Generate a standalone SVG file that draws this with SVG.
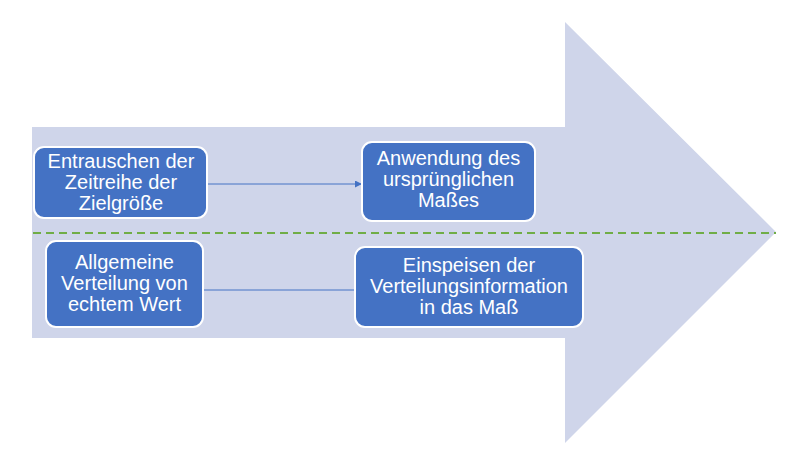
<svg xmlns="http://www.w3.org/2000/svg" width="786" height="461" viewBox="0 0 786 461">
<style>
.bg{fill:#cfd5ea}
.box{fill:#4472c4;stroke:#ffffff;stroke-width:2}
.lbl{font-family:"Liberation Sans",Arial,sans-serif;font-size:20px;fill:#ffffff;text-anchor:middle}
.conn{stroke:#4472c4;stroke-width:1;fill:none}
.sep{stroke:#70ad47;stroke-width:2;stroke-dasharray:8 5;fill:none}
</style>
<defs>
<marker id="ah" viewBox="0 0 10 10" refX="10" refY="5" markerWidth="7" markerHeight="7" markerUnits="userSpaceOnUse" orient="auto">
<path d="M0,0 L10,5 L0,10 z" fill="#4472c4"/>
</marker>
</defs>
<polygon class="bg" points="32,127 565,127 565,22 776,232 565,443 565,338 32,338"/>
<line class="sep" x1="33" y1="233" x2="776" y2="233"/>
<g id="connectors">
<line class="conn" x1="207" y1="184" x2="362" y2="184" marker-end="url(#ah)"/>
<line class="conn" x1="203" y1="290" x2="355" y2="290"/>
</g>
<g id="n1">
<rect class="box" x="34" y="147" width="173" height="71" rx="10"/>
<text class="lbl" x="121" y="168">Entrauschen der</text>
<text class="lbl" x="121" y="189">Zeitreihe der</text>
<text class="lbl" x="121" y="210">Zielgröße</text>
</g>
<g id="n2">
<rect class="box" x="362" y="142" width="173" height="79" rx="10"/>
<text class="lbl" x="448.5" y="165">Anwendung des</text>
<text class="lbl" x="448.5" y="186">ursprünglichen</text>
<text class="lbl" x="448.5" y="207">Maßes</text>
</g>
<g id="n3">
<rect class="box" x="46" y="241" width="157" height="86" rx="10"/>
<text class="lbl" x="124.5" y="269">Allgemeine</text>
<text class="lbl" x="124.5" y="290">Verteilung von</text>
<text class="lbl" x="124.5" y="311">echtem Wert</text>
</g>
<g id="n4">
<rect class="box" x="355" y="247" width="228" height="80" rx="10"/>
<text class="lbl" x="469" y="272">Einspeisen der</text>
<text class="lbl" x="469" y="293">Verteilungsinformation</text>
<text class="lbl" x="469" y="314">in das Maß</text>
</g>
</svg>
